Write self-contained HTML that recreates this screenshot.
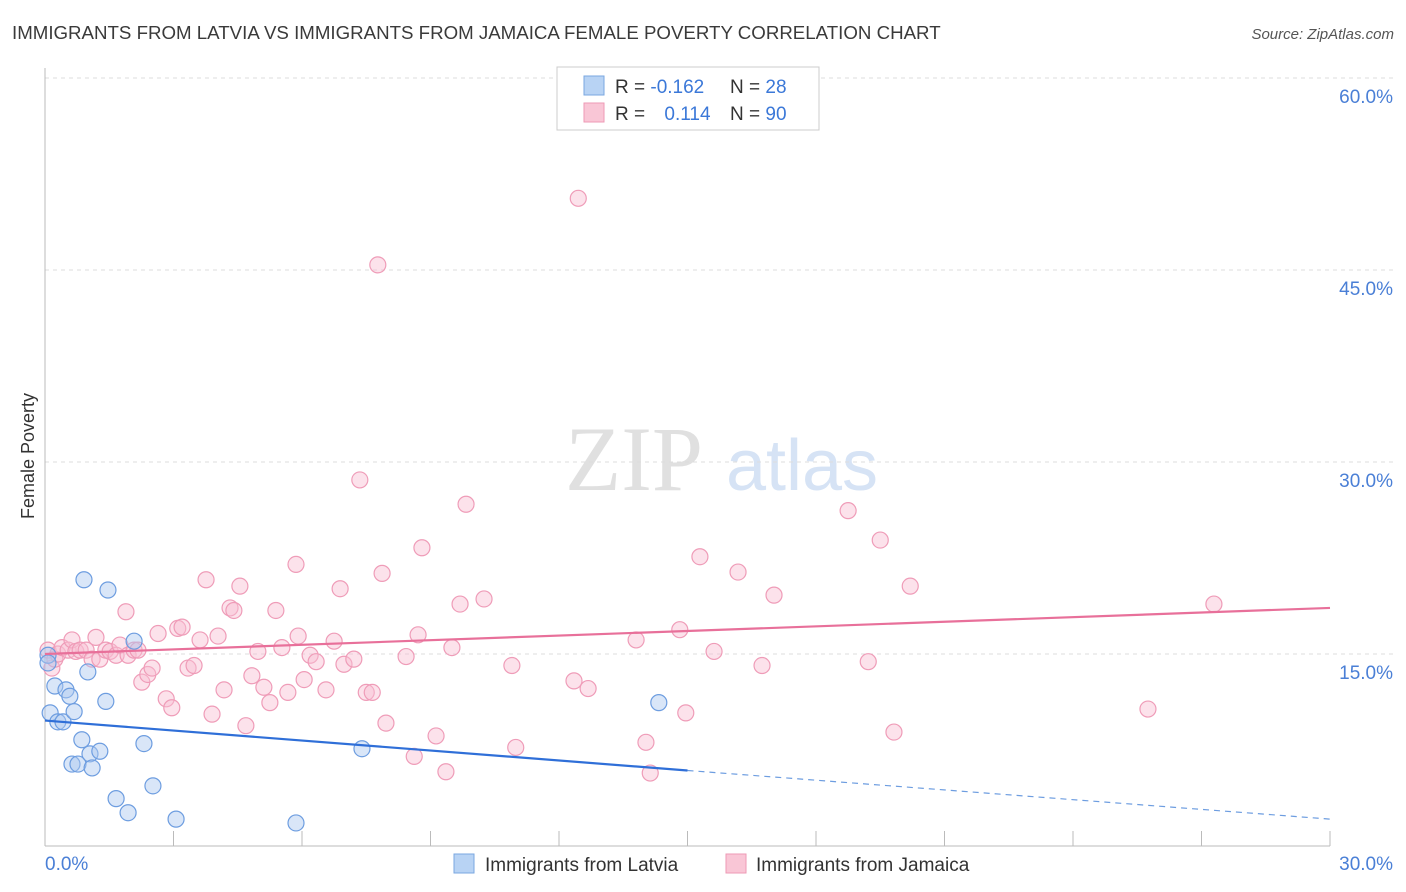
<!DOCTYPE html>
<html><head><meta charset="utf-8"><style>
body{margin:0;background:#fff;font-family:"Liberation Sans",sans-serif;}
svg{display:block}
</style></head><body>
<svg id="c" width="1406" height="892">
<text x="12" y="39" font-size="18.7" fill="#3a3a3a">IMMIGRANTS FROM LATVIA VS IMMIGRANTS FROM JAMAICA FEMALE POVERTY CORRELATION CHART</text>
<text x="1394" y="39" font-size="15" fill="#555" text-anchor="end" font-style="italic">Source: ZipAtlas.com</text>
<text x="34" y="456" font-size="18" fill="#333" text-anchor="middle" transform="rotate(-90 34 456)">Female Poverty</text>
<g><text x="634" y="490" font-size="92" fill="#e0e0e0" text-anchor="middle" font-family="Liberation Serif,serif">ZIP</text><text x="802" y="490" font-size="72" fill="#d6e3f5" text-anchor="middle">atlas</text></g>
<g id="grid"></g><g id="axes"></g><g id="pts"></g><g id="trend"></g>
<g>
<rect x="557" y="67" width="262" height="63" fill="#fff" stroke="#ccc"/>
<rect x="584" y="76" width="20" height="19" fill="#b8d3f4" stroke="#7aa7e0"/>
<rect x="584" y="103" width="20" height="19" fill="#f9c6d6" stroke="#ee9ab5"/>
<text x="615" y="93" font-size="19" fill="#333">R = <tspan fill="#3b78d8">-0.162</tspan></text>
<text x="730" y="93" font-size="19" fill="#333">N = <tspan fill="#3b78d8">28</tspan></text>
<text x="615" y="120" font-size="19" fill="#333">R = <tspan fill="#3b78d8" dx="14">0.114</tspan></text>
<text x="730" y="120" font-size="19" fill="#333">N = <tspan fill="#3b78d8">90</tspan></text>
</g>
<g>
<rect x="454" y="854" width="20" height="19" fill="#b8d3f4" stroke="#7aa7e0"/>
<text x="485" y="871" font-size="19" fill="#333">Immigrants from Latvia</text>
<rect x="726" y="854" width="20" height="19" fill="#f9c6d6" stroke="#ee9ab5"/>
<text x="756" y="871" font-size="19" fill="#333">Immigrants from Jamaica</text>
</g>
</svg>
<script>
const yTicks=[15,30,45,60];
const xTickLabels=["0.0%","30.0%"];
const latviaX=[0.07,0.12,0.23,0.30,0.42,0.49,0.58,0.63,0.68,0.77,0.86,0.91,1.00,1.05,1.10,1.28,1.42,1.47,1.66,1.94,2.08,2.31,2.52,3.06,5.86,7.40,14.33,0.07];
const latviaY=[14.9,10.4,12.5,9.7,9.7,12.2,11.7,6.4,10.5,6.4,8.3,20.8,13.6,7.2,6.1,7.4,11.3,20.0,3.7,2.6,16.0,8.0,4.7,2.1,1.8,7.6,11.2,14.3];
const jamX=[0.07,0.16,0.23,0.30,0.40,0.54,0.63,0.72,0.82,0.96,1.10,1.19,1.28,1.42,1.52,1.66,1.75,1.89,1.94,2.08,2.17,2.26,2.40,2.50,2.64,2.83,2.96,3.10,3.20,3.34,3.48,3.62,3.76,3.90,4.04,4.18,4.32,4.41,4.55,4.69,4.83,4.97,5.11,5.25,5.39,5.53,5.67,5.86,5.91,6.05,6.19,6.33,6.56,6.75,6.89,6.98,7.21,7.35,7.50,7.64,7.77,7.87,7.96,8.43,8.62,8.71,8.80,9.13,9.36,9.50,9.69,9.83,10.25,10.90,10.99,12.35,12.45,12.68,13.80,14.03,14.13,14.82,14.96,15.29,15.62,16.18,16.74,17.02,18.75,19.22,19.50,19.82,20.20,25.75,27.29];
const jamY=[15.3,13.9,14.6,15.0,15.5,15.3,16.1,15.2,15.3,15.3,14.6,16.3,14.6,15.3,15.2,14.9,15.7,18.3,14.9,15.3,15.3,12.8,13.4,13.9,16.6,11.5,10.8,17.0,17.1,13.9,14.1,16.1,20.8,10.3,16.4,12.2,18.6,18.4,20.3,9.4,13.3,15.2,12.4,11.2,18.4,15.5,12.0,22.0,16.4,13.0,14.9,14.4,12.2,16.0,20.1,14.2,14.6,28.6,12.0,12.0,45.4,21.3,9.6,14.8,7.0,16.5,23.3,8.6,5.8,15.5,18.9,26.7,19.3,14.1,7.7,12.9,50.6,12.3,16.1,8.1,5.7,16.9,10.4,22.6,15.2,21.4,14.1,19.6,26.2,14.4,23.9,8.9,20.3,10.7,18.9];
const latviaTrend=[0,9.8,15,5.9,30,2.1];
const jamTrend=[0,15.0,30,18.6];
const NS="http://www.w3.org/2000/svg";
const X=v=>45+v*(1330-45)/30, Y=v=>846-v*(846-654)/15;
function mk(t,a,p){const e=document.createElementNS(NS,t);for(const k in a)e.setAttribute(k,a[k]);document.getElementById(p).appendChild(e);return e;}
yTicks.forEach((t,i)=>{const l=mk('line',{x1:45,x2:1393,y1:Y(t),y2:Y(t),stroke:'#ddd','stroke-dasharray':'4,4'},'grid');


const tx=mk('text',{x:1393,y:Y(t)+25,'font-size':19,fill:'#4a7fd6','text-anchor':'end'},'grid');tx.textContent=t.toFixed(1)+'%';

});
mk('line',{x1:45,x2:45,y1:68,y2:846,stroke:'#bbb'},'axes');
mk('line',{x1:45,x2:1330,y1:846,y2:846,stroke:'#bbb'},'axes');
for(let i=0;i<=10;i++){mk('line',{x1:X(i*3),x2:X(i*3),y1:831,y2:846,stroke:'#bbb'},'axes');}
[0,30].forEach((v,i)=>{const tx=mk('text',{x:i?1393:45,y:870,'font-size':19,fill:'#4a7fd6','text-anchor':i?'end':'start'},'axes');tx.textContent=xTickLabels[i];

});
jamX.forEach((v,i)=>{const c=mk('circle',{cx:X(v),cy:Y(jamY[i]),r:8,fill:'rgba(249,190,210,0.45)',stroke:'#ef9cb8','stroke-width':1.2},'pts');

});
latviaX.forEach((v,i)=>{const c=mk('circle',{cx:X(v),cy:Y(latviaY[i]),r:8,fill:'rgba(170,200,240,0.45)',stroke:'#6d9de0','stroke-width':1.2},'pts');

});
const a=mk('line',{x1:X(latviaTrend[0]),y1:Y(latviaTrend[1]),x2:X(latviaTrend[2]),y2:Y(latviaTrend[3]),stroke:'#2f6fd8','stroke-width':2.2},'trend');


const b=mk('line',{x1:X(latviaTrend[2]),y1:Y(latviaTrend[3]),x2:X(latviaTrend[4]),y2:Y(latviaTrend[5]),stroke:'#6d9de0','stroke-width':1.2,'stroke-dasharray':'6,5'},'trend');


const c=mk('line',{x1:X(jamTrend[0]),y1:Y(jamTrend[1]),x2:X(jamTrend[2]),y2:Y(jamTrend[3]),stroke:'#e8709a','stroke-width':2.2},'trend');


</script>
</body></html>
